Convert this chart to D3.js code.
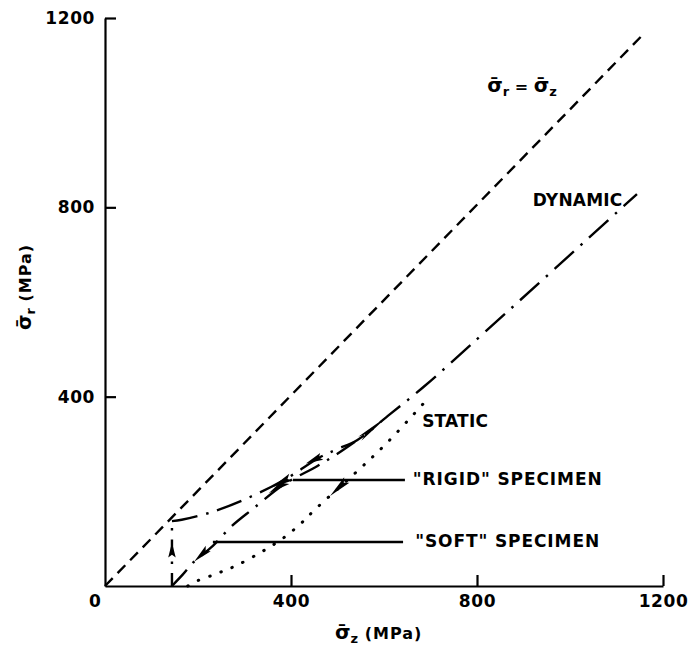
<!DOCTYPE html>
<html><head><meta charset="utf-8">
<script src="https://cdn.jsdelivr.net/npm/d3@7/dist/d3.min.js"></script>
<style>
body{margin:0;background:#fff}
svg{display:block}
text{font-family:"DejaVu Sans",sans-serif;fill:#000;font-weight:bold}
</style>
</head><body>
<svg id="c" width="690" height="645"></svg>
<script>
// ---- data (MPa) ----
const xTicks = [400, 800, 1200];
const yTicks = [400, 800, 1200];
const hydrostatic = [[0, 0], [1155, 1163]];
const dynamicRise = [[144, 0], [144, 137]];
const dynamicUpper = [[144, 137], [165, 140], [232, 157], [312, 188], [387, 225], [462, 272], [499, 289], [542, 308], [613, 363], [688, 423], [822, 541], [1144, 828]];
const dynamicLower = [[144, 0], [168, 25], [190, 50], [232, 85], [273, 127], [318, 163], [387, 216], [456, 253], [499, 279], [542, 308]];
const staticPath = [[178, 0], [189, 7], [237, 25], [282, 43], [340, 74], [383, 101], [419, 130], [452, 162], [533, 234], [606, 302], [699, 401]];
const rigidLeader = [[404, 224], [645, 224]];
const softLeader = [[232, 93], [641, 93]];
// arrowheads: [tip, base]
const arrows = [
  [[144, 92], [144, 60]],
  [[192, 52], [222, 79]],
  [[358, 208], [400, 230]],
  [[352, 196], [392, 222]],
  [[432, 259], [466, 274]],
  [[484, 190], [520, 224]],
  [[613, 363], [548, 311]]
];
const labelText = ["DYNAMIC", "STATIC", "\"RIGID\" SPECIMEN", "\"SOFT\" SPECIMEN"];
const labelAt = [[920, 803], [682, 336], [662, 213], [667, 82]];

// ---- chart ----
const svg = d3.select("#c");
const x = d3.scaleLinear().domain([0, 1200]).range([105, 663]);
const y = d3.scaleLinear().domain([0, 1200]).range([586, 18]);

const ax = svg.append("g").attr("transform", `translate(0,${y(0)})`)
  .call(d3.axisBottom(x).tickValues(xTicks).tickFormat(d3.format("d")).tickSize(-11).tickSizeOuter(0).tickPadding(9));
const ay = svg.append("g").attr("transform", `translate(${x(0)},0)`)
  .call(d3.axisLeft(y).tickValues(yTicks).tickFormat(d3.format("d")).tickSize(-11).tickSizeOuter(0).tickPadding(10));
[ax, ay].forEach(g => {
  g.selectAll("path,line").attr("stroke", "#000").attr("stroke-width", 2.2);
  g.selectAll("text").attr("font-size", 17).attr("font-family", '"DejaVu Sans",sans-serif')
    .attr("font-weight", "bold").attr("fill", "#000").style("letter-spacing", "0.6px");
});
svg.append("text").attr("x", x(0) - 10).attr("y", y(0) + 9).attr("dy", "0.71em")
  .attr("text-anchor", "middle").attr("font-size", 17).text("0");

const lineC = d3.line().x(d => x(d[0])).y(d => y(d[1])).curve(d3.curveCatmullRom.alpha(0.5));
const lineL = d3.line().x(d => x(d[0])).y(d => y(d[1]));

function draw(data, gen, dash, w, cap) {
  svg.append("path").attr("d", gen(data)).attr("fill", "none").attr("stroke", "#000")
    .attr("stroke-width", w).attr("stroke-dasharray", dash).attr("stroke-linecap", cap || "butt");
}
draw(hydrostatic, lineL, "11,7", 2.4);
draw(dynamicRise, lineL, "13,9,2.5,9", 2.4);
draw(dynamicUpper, lineC, "26,9,2.5,9", 2.4);
draw(dynamicLower, lineC, "22,9,2.5,9", 2.4);
draw(staticPath, lineC, "0.5,11.5", 3, "round");
draw(rigidLeader, lineL, null, 2.4);
draw(softLeader, lineL, null, 2.4);

arrows.forEach(([tip, base], i) => {
  const tx = x(tip[0]), ty = y(tip[1]), bx = x(base[0]), by = y(base[1]);
  const dx = tx - bx, dy = ty - by, L = Math.hypot(dx, dy);
  const w = i === 6 ? 5 : 7.5;
  const nx = -dy / L * w / 2, ny = dx / L * w / 2;
  const mx = bx + dx * 0.18, my = by + dy * 0.18;
  svg.append("path")
    .attr("d", `M${tx},${ty}L${bx + nx},${by + ny}L${mx},${my}L${bx - nx},${by - ny}Z`)
    .attr("fill", "#000");
});

labelText.forEach((t, i) => {
  svg.append("text").attr("x", x(labelAt[i][0])).attr("y", y(labelAt[i][1]))
    .attr("font-size", 17).style("letter-spacing", i > 1 ? "0.9px" : "0.2px").text(t);
});

const sig = "\u03C3\u0304";
// hydrostatic label
const hl = svg.append("text").attr("x", x(822)).attr("y", y(1044)).attr("font-size", 20);
hl.append("tspan").text(sig);
hl.append("tspan").attr("font-size", 13).attr("dy", 4).text("r");
hl.append("tspan").attr("dy", -4).attr("font-size", 16).text(" = ");
hl.append("tspan").text(sig);
hl.append("tspan").attr("font-size", 13).attr("dy", 4).text("z");

// x title
const xt = svg.append("text").attr("x", 335).attr("y", 639).attr("font-size", 20);
xt.append("tspan").text(sig);
xt.append("tspan").attr("font-size", 13).attr("dy", 4).text("z");
xt.append("tspan").attr("font-size", 16).attr("dy", -4).style("letter-spacing", "1px").text("  (MPa)");

// y title
const yt = svg.append("text").attr("transform", "translate(31,287) rotate(-90)")
  .attr("text-anchor", "middle").attr("font-size", 20);
yt.append("tspan").text(sig);
yt.append("tspan").attr("font-size", 13).attr("dy", 4).text("r");
yt.append("tspan").attr("font-size", 16).attr("dy", -4).style("letter-spacing", "1px").text(" (MPa)");
</script>
</body></html>
